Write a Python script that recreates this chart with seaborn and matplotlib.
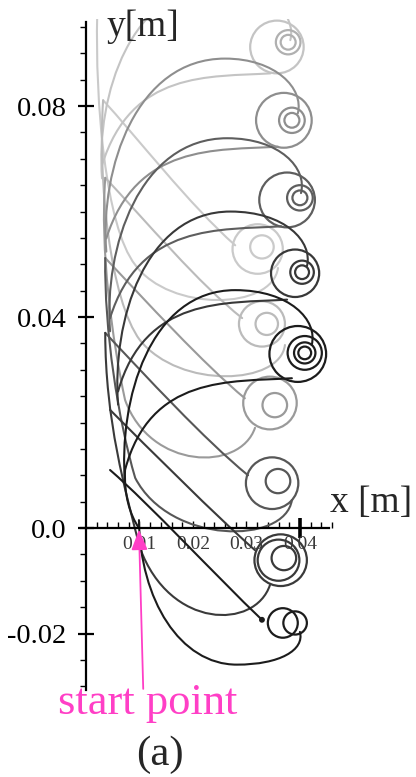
import matplotlib
matplotlib.use("Agg")
import matplotlib.pyplot as plt
from matplotlib.path import Path
from matplotlib.patches import PathPatch, Circle, FancyArrowPatch
from matplotlib.ticker import FixedLocator, FixedFormatter, MultipleLocator
import seaborn as sns

sns.set_theme(style="white")
plt.rcParams["font.family"] = ["Liberation Serif", "DejaVu Serif"]

MM = 1e-3  # all path data below is in millimetres

# ---- leaf-shaped loops: upper arc (anchor -> peak -> knot), return path (knot -> anchor)
leaf_shades = ["#1c1c1c", "#383838", "#5e5e5e", "#8e8e8e", "#c4c4c4"]
leaf_upper = [
    [(7.3, 8.5), (6.0, 24.3), (12.0, 45.1), (27.9, 45.1), (38.1, 45.1), (43.4, 39.4), (42.2, 34.7)],
    [(6.0, 23.4), (4.8, 39.2), (11.0, 60.0), (27.0, 60.0), (37.2, 60.0), (42.5, 54.3), (41.3, 49.6)],
    [(4.5, 37.3), (3.3, 53.1), (10.0, 73.9), (26.4, 73.9), (36.3, 73.9), (41.4, 68.2), (40.2, 63.5)],
    [(3.8, 52.4), (2.6, 68.2), (9.4, 89.0), (26.0, 89.0), (35.5, 89.0), (40.8, 83.3), (39.6, 78.6)],
    [(3.0, 66.3), (1.8, 82.1), (8.5, 102.9), (25.0, 102.9), (34.1, 102.9), (39.4, 97.2), (38.2, 92.5)],
]
leaf_lower = [
    [(38.5, 28.4), (26.9, 27.7), (12.0, 29.0), (7.3, 11.0), (7.1, 6.3), (8.2, 2.5), (9.9, 0.0)],
    [(37.6, 43.3), (26.0, 42.6), (11.0, 43.9), (6.0, 25.9)],
    [(36.5, 57.2), (25.0, 56.5), (10.0, 57.8), (4.5, 39.8)],
    [(35.9, 72.3), (24.3, 71.6), (9.4, 72.9), (3.8, 54.9)],
    [(34.5, 86.2), (23.0, 85.5), (8.5, 86.8), (3.0, 68.8)],
]

# ---- drifting loops: diagonal stroke into a knot, U-turn under it, climb along the left side
drift_shades = ["#1c1c1c", "#3a3a3a", "#575757", "#9a9a9a", "#bbbbbb", "#cacaca"]
drift_diag = [
    [(4.5, 11.0), (12.0, 4.4), (24.1, -8.9), (32.9, -17.4)],
    [(4.5, 22.4), (12.0, 14.8), (24.1, 2.5), (31.6, -4.2)],
    [(3.6, 37.0), (11.0, 29.0), (22.2, 16.7), (30.3, 10.0)],
    [(3.6, 51.2), (11.0, 43.2), (22.2, 30.9), (29.7, 24.6)],
    [(3.6, 66.4), (11.0, 58.4), (21.3, 46.1), (29.2, 39.8)],
    [(3.2, 81.1), (9.2, 74.5), (19.4, 61.2), (27.9, 53.6)],
]
drift_return = [
    [(9.9, 1.5), (10.1, -13.6), (17.6, -25.9), (28.2, -25.9), (36.3, -25.9), (40.9, -23.1), (40.0, -19.7)],
    [(34.4, -10.8), (31.6, -19.3), (15.7, -19.3), (10.1, -3.8), (7.3, 7.2), (3.6, 20.5), (3.6, 37.0)],
    [(38.5, 5.3), (37.2, -3.2), (15.7, -3.2), (9.2, 9.5), (6.0, 20.5), (3.4, 37.5), (3.6, 51.2)],
    [(31.6, 19.0), (28.8, 10.6), (12.0, 11.0), (7.3, 24.3), (4.9, 35.6), (2.6, 52.7), (3.6, 66.4)],
    [(37.2, 34.7), (36.3, 27.1), (17.6, 26.2), (10.1, 35.6), (4.5, 43.2), (2.2, 65.9), (3.2, 81.1)],
    [(35.9, 49.3), (34.8, 41.3), (15.7, 40.9), (9.2, 49.9), (3.6, 57.1), (1.7, 81.1), (2.1, 97.3)],
]

# ---- small circling "knots" at the right end of each loop
ring_cx = [35.7, 37.8, 37.8, 37.0, 38.5, 38.5, 37.6, 40.0, 40.0, 32.1, 32.9,
           39.1, 40.4, 40.4, 32.9, 33.8, 39.6, 40.9, 40.9, 40.9, 34.4, 35.3,
           34.8, 35.9, 36.4, 36.0, 37.0, 36.8, 39.1]
ring_cy = [91.2, 92.1, 92.1, 77.3, 77.3, 77.3, 62.2, 62.6, 62.6, 52.9, 53.3,
           48.3, 48.5, 48.5, 38.7, 38.7, 33.0, 33.2, 33.2, 33.2, 23.7, 23.3,
           8.5, 8.9, -6.1, -6.1, -5.7, -18.0, -18.0]
ring_r = [5.0, 2.3, 1.4, 5.2, 2.4, 1.4, 5.2, 2.4, 1.4, 4.7, 2.2,
          4.5, 2.2, 1.3, 4.3, 2.1, 5.3, 3.2, 2.0, 1.2, 5.0, 2.3,
          4.9, 2.3, 4.9, 3.9, 2.3, 2.8, 2.2]
ring_shade = ["#c4c4c4", "#b0b0b0", "#b0b0b0", "#8e8e8e", "#8e8e8e", "#8e8e8e",
              "#5e5e5e", "#5e5e5e", "#5e5e5e", "#cacaca", "#cacaca",
              "#383838", "#383838", "#383838", "#bbbbbb", "#bbbbbb",
              "#1c1c1c", "#1c1c1c", "#1c1c1c", "#1c1c1c", "#9a9a9a", "#9a9a9a",
              "#575757", "#575757", "#3a3a3a", "#3a3a3a", "#3a3a3a", "#1c1c1c", "#1c1c1c"]

# junction dot where the lowest diagonal meets its knot
dot_x = [32.9]
dot_y = [-17.4]

# axis ticks (metres)
y_major = [-0.02, 0.0, 0.04, 0.08]
y_labels = ["-0.02", "0.0", "0.04", "0.08"]
x_major = [0.01, 0.02, 0.03, 0.04]
x_labels = ["0.01", "0.02", "0.03", "0.04"]
x_minor_step = 0.002
x_minor_count = 23

# start marker: arrow tail / head (mm) and label
start_tail = (10.7, -30.5)
start_head = (9.9, -0.3)
PINK = "#ff3fc6"


def zorder_for(shade):
    g = int(shade[1:3], 16)
    return 2 + (255 - g) / 255.0


def draw_curve(ax, pts, shade, lw=1.5):
    verts = [(x * MM, y * MM) for x, y in pts]
    codes = [Path.MOVETO] + [Path.CURVE4] * (len(verts) - 1)
    ax.add_patch(PathPatch(Path(verts, codes), fill=False, edgecolor=shade,
                           lw=lw, zorder=zorder_for(shade), capstyle="round"))


fig = plt.figure(figsize=(4.16, 7.77), dpi=100)
ax = fig.add_axes([0.1553, 0.110, 0.6428, 0.8655])
ax.set_xlim(-0.004, 0.046)
ax.set_ylim(-0.031, 0.0965)
ax.set_facecolor("white")

for shade, up, lo in zip(leaf_shades, leaf_upper, leaf_lower):
    draw_curve(ax, up, shade)
    draw_curve(ax, lo, shade)
for shade, dg, rt in zip(drift_shades, drift_diag, drift_return):
    draw_curve(ax, dg, shade)
    draw_curve(ax, rt, shade)
for cx, cy, r, shade in zip(ring_cx, ring_cy, ring_r, ring_shade):
    ax.add_patch(Circle((cx * MM, cy * MM), r * MM, fill=False, edgecolor=shade,
                        lw=1.6, zorder=zorder_for(shade)))
sns.scatterplot(x=[v * MM for v in dot_x], y=[v * MM for v in dot_y], ax=ax,
                color="#1c1c1c", s=18, edgecolor="none", zorder=4)

# axes crossing at the origin
for side in ("top", "right"):
    ax.spines[side].set_visible(False)
ax.spines["left"].set_position(("data", 0.0))
ax.spines["bottom"].set_position(("data", 0.0))
ax.spines["left"].set_bounds(-0.0307, 0.0959)
ax.spines["bottom"].set_bounds(-0.001, 0.0455)
for side in ("left", "bottom"):
    ax.spines[side].set_color("black")
    ax.spines[side].set_linewidth(1.6)
    ax.spines[side].set_zorder(6)

ax.yaxis.set_major_locator(FixedLocator(y_major))
ax.yaxis.set_major_formatter(FixedFormatter(y_labels))
ax.yaxis.set_minor_locator(MultipleLocator(0.005))
ax.xaxis.set_major_locator(FixedLocator(x_major))
ax.xaxis.set_major_formatter(FixedFormatter(x_labels))
ax.xaxis.set_minor_locator(FixedLocator([x_minor_step * (i + 1) for i in range(x_minor_count)]))

ax.tick_params(axis="y", which="major", left=True, direction="inout", length=12,
               width=1.6, labelsize=20.5, pad=8, colors="black")
ax.tick_params(axis="y", which="minor", left=True, direction="out", length=4, width=1.0,
               colors="black")
ax.tick_params(axis="x", which="major", bottom=True, direction="in", length=5, width=1.0,
               labelsize=14, pad=6, colors="black", labelcolor="#3a3a3a")
ax.tick_params(axis="x", which="minor", bottom=True, direction="in", length=4, width=1.0,
               colors="black")
big = ax.xaxis.get_major_ticks()[3]
big.tick1line.set_marker("|")
big.tick1line.set_markersize(15)
big.tick1line.set_markeredgewidth(2.6)
ax.grid(False)

arrow = FancyArrowPatch((start_tail[0] * MM, start_tail[1] * MM),
                        (start_head[0] * MM, start_head[1] * MM),
                        arrowstyle="-|>,head_length=0.95,head_width=0.38",
                        mutation_scale=13, color=PINK, lw=1.3,
                        shrinkA=0, shrinkB=0, zorder=7, clip_on=False)
ax.add_patch(arrow)

fig.text(0.257, 0.965, "y[m]", fontsize=27, ha="left", va="center")
fig.text(0.793, 0.353, "x [m]", fontsize=27, ha="left", va="center")
fig.text(0.356, 0.0952, "start point", fontsize=32, ha="center", va="center", color=PINK)
fig.text(0.385, 0.028, "(a)", fontsize=31, ha="center", va="center")

fig.savefig("out.png", dpi=100, facecolor="white")
